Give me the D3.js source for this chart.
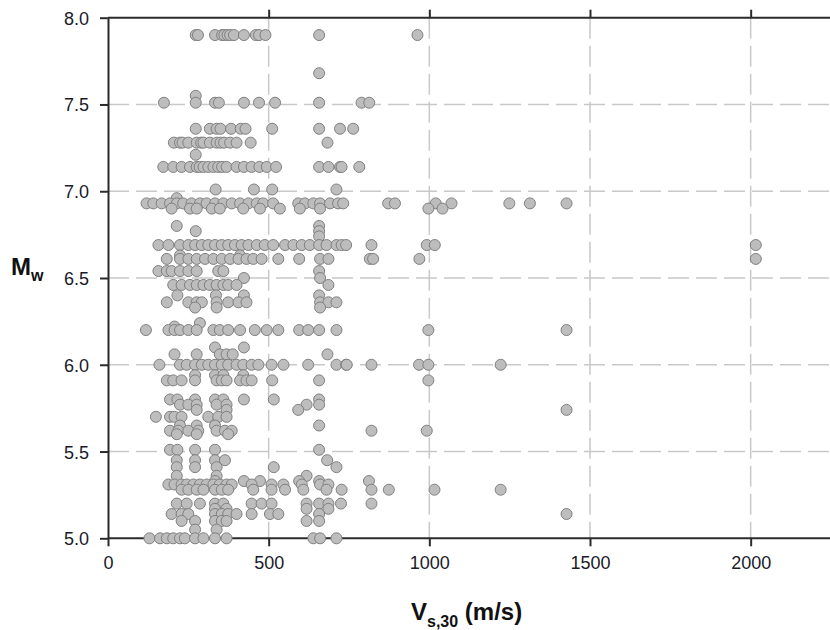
<!DOCTYPE html>
<html>
<head>
<meta charset="utf-8">
<script src="https://cdn.jsdelivr.net/npm/d3@7"></script>
<style>
  body { margin: 0; background: #ffffff; }
  svg text { font-family: "Liberation Sans", Arial, sans-serif; }
</style>
</head>
<body>
<div id="chart"></div>
<script>
// tick labels
const xTicks = [0, 500, 1000, 1500, 2000];
const yTicks = [5.0, 5.5, 6.0, 6.5, 7.0, 7.5, 8.0];

// moment magnitude of each group of records
const mwLevels = [
  7.90, 7.68, 7.55, 7.51, 7.36, 7.28, 7.21, 7.14, 7.01, 6.96,
  6.93, 6.90, 6.80, 6.77, 6.74, 6.69, 6.63, 6.61, 6.54, 6.50,
  6.46, 6.40, 6.36, 6.33, 6.24, 6.22, 6.20, 6.10, 6.06, 6.00,
  5.94, 5.91, 5.80, 5.77, 5.74, 5.70, 5.65, 5.62, 5.60, 5.51,
  5.45, 5.41, 5.36, 5.33, 5.31, 5.28, 5.20, 5.17, 5.14, 5.10,
  5.05, 5.00
];

// Vs30 (m/s) of the records in each magnitude group
const vs30Groups = [
  [273, 280, 333, 355, 362, 372, 380, 392, 423, 460, 470, 490, 657, 963],
  [657],
  [273],
  [174, 273, 333, 345, 423, 470, 520, 657, 789, 813],
  [273, 317, 338, 350, 383, 413, 428, 511, 657, 722, 763],
  [205, 224, 232, 250, 276, 290, 297, 317, 338, 350, 361, 380, 400, 444, 683],
  [273],
  [172, 203, 229, 255, 276, 285, 297, 312, 328, 343, 355, 369, 400, 423, 447, 471, 494, 523, 657, 686, 722, 727, 782],
  [335, 454, 511, 711],
  [214],
  [120, 141, 167, 193, 214, 234, 260, 286, 307, 333, 359, 385, 411, 437, 463, 483, 514, 592, 613, 639, 660, 691, 716, 732, 872, 893, 1020, 1069, 1249, 1313, 1427],
  [198, 255, 276, 323, 348, 421, 473, 535, 597, 660, 997, 1041],
  [214, 657],
  [273, 657],
  [657],
  [157, 188, 224, 250, 271, 292, 312, 333, 354, 374, 395, 416, 437, 463, 488, 514, 551, 577, 603, 628, 657, 680, 711, 727, 741, 820, 992, 1017, 2016],
  [224, 411],
  [183, 224, 250, 276, 302, 328, 354, 380, 406, 431, 452, 478, 530, 595, 660, 686, 815, 825, 969, 2016],
  [157, 183, 198, 224, 250, 276, 343, 359, 657],
  [423, 660],
  [203, 229, 255, 276, 297, 317, 338, 359, 374, 400, 686],
  [216, 336, 423, 657],
  [183, 250, 276, 292, 338, 374, 406, 431, 660, 686, 711],
  [271, 338, 660],
  [286],
  [207],
  [118, 188, 207, 224, 250, 276, 328, 348, 374, 411, 457, 494, 530, 595, 623, 657, 711, 997, 1427],
  [333, 423],
  [207, 276, 348, 369, 388, 683],
  [160, 224, 245, 271, 292, 312, 333, 354, 374, 400, 421, 447, 468, 509, 546, 623, 711, 741, 743, 820, 968, 997, 1222],
  [271, 333, 359, 421],
  [183, 203, 229, 271, 338, 354, 369, 411, 431, 447, 511, 657, 997],
  [193, 216, 271, 333, 359, 423, 516, 657],
  [224, 250, 276, 338, 369, 618, 657],
  [276, 369, 592, 1427],
  [149, 193, 207, 229, 312, 343, 369],
  [224, 276, 333, 657],
  [193, 219, 250, 281, 338, 364, 385, 820, 992],
  [214, 276, 374],
  [193, 216, 271, 333, 657],
  [214, 271, 333, 364, 682],
  [214, 271, 338, 516, 711],
  [214, 338, 618],
  [333, 423, 473, 595, 657, 812],
  [188, 207, 229, 245, 266, 286, 307, 328, 348, 369, 385, 447, 509, 546, 603, 660, 686],
  [229, 250, 276, 297, 333, 354, 374, 452, 509, 551, 608, 680, 727, 820, 874, 1016, 1222],
  [214, 245, 286, 333, 359, 447, 478, 509, 618, 657, 686, 725, 820],
  [333, 369, 618, 686],
  [198, 229, 250, 333, 354, 374, 400, 447, 504, 530, 657, 1427],
  [229, 271, 333, 354, 369, 618, 657],
  [271, 338],
  [129, 162, 183, 203, 224, 239, 271, 297, 333, 369, 639, 660, 711]
];

const points = mwLevels.flatMap((mw, i) => vs30Groups[i].map(v => ({ vs30: v, mw: mw })));

const width = 830, height = 630;
const plotLeft = 108, plotRight = 831, plotTop = 17.7, plotBottom = 538.3;

const svg = d3.select("#chart").append("svg")
  .attr("width", width)
  .attr("height", height);

const x = d3.scaleLinear().domain([0, 2250]).range([plotLeft, plotRight]);
const y = d3.scaleLinear().domain([5, 8]).range([plotBottom, plotTop]);

// dashed grid
const grid = svg.append("g")
  .attr("stroke", "#c8c8c8")
  .attr("stroke-width", 1.5)
  .attr("stroke-dasharray", "21,7");

grid.selectAll(".gx")
  .data(xTicks.filter(d => d > 0))
  .enter().append("line")
  .attr("x1", d => x(d)).attr("x2", d => x(d))
  .attr("y1", plotTop).attr("y2", plotBottom);

grid.selectAll(".gy")
  .data(yTicks.filter(d => d > 5 && d < 8))
  .enter().append("line")
  .attr("x1", plotLeft).attr("x2", width)
  .attr("y1", d => y(d)).attr("y2", d => y(d));

// axes
const axisColor = "#2b2b2b";

const xAxis = svg.append("g")
  .attr("transform", `translate(0,${plotBottom})`)
  .call(d3.axisBottom(x).tickValues(xTicks).tickFormat(d3.format("d")).tickSize(8).tickSizeOuter(0));

const xTop = svg.append("g")
  .attr("transform", `translate(0,${plotTop})`)
  .call(d3.axisTop(x).tickValues(xTicks.filter(d => d > 0)).tickFormat("").tickSize(8).tickSizeOuter(0));

const yAxis = svg.append("g")
  .attr("transform", `translate(${plotLeft},0)`)
  .call(d3.axisLeft(y).tickValues(yTicks).tickFormat(d3.format(".1f")).tickSize(8).tickSizeOuter(0));

[xAxis, xTop, yAxis].forEach(g => {
  g.select(".domain").attr("stroke", axisColor).attr("stroke-width", 2);
  g.selectAll(".tick line").attr("stroke", axisColor).attr("stroke-width", 2);
  g.selectAll(".tick text")
    .attr("fill", "#1a1a2a")
    .style("font-size", "18px")
    .style("font-family", "'Liberation Sans', Arial, sans-serif");
});

xAxis.select(".domain").attr("d", `M${plotLeft},0H${width}`);
xTop.select(".domain").attr("d", `M${plotLeft},0H${width}`);
xAxis.selectAll(".tick text").attr("y", 18);
yAxis.selectAll(".tick text").attr("x", -19).attr("dy", "0.36em");

// points
svg.append("g")
  .selectAll("circle")
  .data(points)
  .enter().append("circle")
  .attr("cx", d => x(d.vs30))
  .attr("cy", d => y(d.mw))
  .attr("r", 5.5)
  .attr("fill", "#bdbdbd")
  .attr("stroke", "#808080")
  .attr("stroke-width", 1);

// axis titles
const xTitle = svg.append("text")
  .attr("x", 411)
  .attr("y", 620)
  .attr("font-size", "24px")
  .attr("font-weight", "bold")
  .attr("fill", "#111");
xTitle.append("tspan").text("V");
xTitle.append("tspan").attr("dy", 7).attr("font-size", "16px").text("s,30");
xTitle.append("tspan").attr("dy", -7).text(" (m/s)");

const yTitle = svg.append("text")
  .attr("x", 11)
  .attr("y", 275)
  .attr("font-size", "24px")
  .attr("font-weight", "bold")
  .attr("fill", "#111");
yTitle.append("tspan").text("M");
yTitle.append("tspan").attr("dy", 6).attr("font-size", "16px").text("w");
</script>
</body>
</html>
